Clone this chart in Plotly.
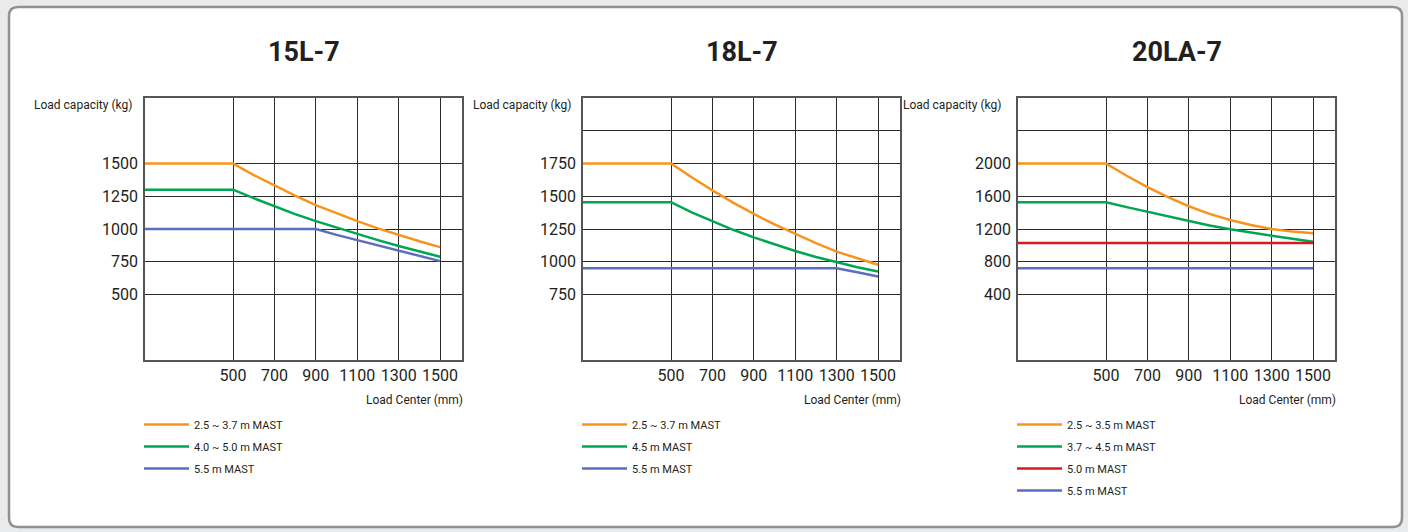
import plotly.graph_objects as go

# ---------------- data ----------------
x_pts = [0, 500, 600, 700, 800, 900, 1000, 1100, 1200, 1300, 1400, 1500]
x_ticks = [500, 700, 900, 1100, 1300, 1500]

titles = ["15L-7", "18L-7", "20LA-7"]

# 15L-7
p1_names = ["2.5 ~ 3.7 m MAST", "4.0 ~ 5.0 m MAST", "5.5 m MAST"]
p1_orange = [1500, 1500, 1412, 1332, 1255, 1182, 1118, 1060, 1005, 955, 907, 862]
p1_green = [1300, 1300, 1235, 1172, 1114, 1060, 1010, 962, 915, 870, 828, 788]
p1_blue = [1000, 1000, 1000, 1000, 1000, 1000, 955, 915, 872, 830, 790, 755]
p1_yticks = [500, 750, 1000, 1250, 1500]
p1_ylabels = ["500", "750", "1000", "1250", "1500"]

# 18L-7
p2_names = ["2.5 ~ 3.7 m MAST", "4.5 m MAST", "5.5 m MAST"]
p2_orange = [1750, 1750, 1645, 1545, 1452, 1365, 1285, 1212, 1142, 1077, 1025, 977]
p2_green = [1455, 1455, 1377, 1308, 1244, 1186, 1132, 1082, 1036, 995, 958, 926]
p2_blue = [950, 950, 950, 950, 950, 950, 950, 950, 950, 950, 920, 888]
p2_yticks = [750, 1000, 1250, 1500, 1750, 2000]
p2_ylabels = ["750", "1000", "1250", "1500", "1750", ""]

# 20LA-7
p3_names = ["2.5 ~ 3.5 m MAST", "3.7 ~ 4.5 m MAST", "5.0 m MAST", "5.5 m MAST"]
p3_orange = [2000, 2000, 1850, 1712, 1588, 1478, 1385, 1310, 1250, 1200, 1168, 1147]
p3_green = [1527, 1527, 1467, 1412, 1350, 1294, 1243, 1196, 1155, 1118, 1080, 1045]
p3_red = [1030, 1030, 1030, 1030, 1030, 1030, 1030, 1030, 1030, 1030, 1030, 1030]
p3_blue = [720, 720, 720, 720, 720, 720, 720, 720, 720, 720, 720, 720]
p3_yticks = [400, 800, 1200, 1600, 2000, 2400]
p3_ylabels = ["400", "800", "1200", "1600", "2000", ""]

# ---------------- styling ----------------
W, H = 1408, 532
FONT = "Roboto, Liberation Sans, sans-serif"
TXT = "#231F20"
ORANGE = "#F7941D"
GREEN = "#00A651"
BLUE = "#5B6DC0"
RED = "#D71920"

def px(x):
    return x / W

def py(y):
    return 1 - y / H

panels = [
    dict(xd=(145, 462), yr=(0, 2000), yt=p1_yticks, yl=p1_ylabels,
         series=[(p1_names[0], p1_orange, ORANGE), (p1_names[1], p1_green, GREEN), (p1_names[2], p1_blue, BLUE)],
         ylab_x=134),
    dict(xd=(583, 900), yr=(250, 2250), yt=p2_yticks, yl=p2_ylabels,
         series=[(p2_names[0], p2_orange, ORANGE), (p2_names[1], p2_green, GREEN), (p2_names[2], p2_blue, BLUE)],
         ylab_x=573),
    dict(xd=(1018, 1335), yr=(-400, 2800), yt=p3_yticks, yl=p3_ylabels,
         series=[(p3_names[0], p3_orange, ORANGE), (p3_names[1], p3_green, GREEN),
                 (p3_names[2], p3_red, RED), (p3_names[3], p3_blue, BLUE)],
         ylab_x=1003),
]

fig = go.Figure()
layout = dict(
    width=W, height=H,
    margin=dict(l=0, r=0, t=0, b=0),
    paper_bgcolor="#E9EAEC",
    plot_bgcolor="white",
    font=dict(family=FONT, color=TXT),
    showlegend=True,
    annotations=[],
    shapes=[],
)

# white rounded panel
r = 9
x0, y0, x1, y1 = 9, 7, 1402, 527
path = (f"M {px(x0+r)},{py(y0)} L {px(x1-r)},{py(y0)} Q {px(x1)},{py(y0)} {px(x1)},{py(y0+r)} "
        f"L {px(x1)},{py(y1-r)} Q {px(x1)},{py(y1)} {px(x1-r)},{py(y1)} "
        f"L {px(x0+r)},{py(y1)} Q {px(x0)},{py(y1)} {px(x0)},{py(y1-r)} "
        f"L {px(x0)},{py(y0+r)} Q {px(x0)},{py(y0)} {px(x0+r)},{py(y0)} Z")
layout["shapes"].append(dict(type="path", xref="paper", yref="paper", path=path,
                             fillcolor="white", line=dict(color="#909090", width=2.5), layer="below"))

for i, p in enumerate(panels):
    k = "" if i == 0 else str(i + 1)
    xa, ya = "x" + k, "y" + k
    lg = "legend" + k
    for gi, (name, vals, col) in enumerate(p["series"]):
        fig.add_trace(go.Scatter(
            x=x_pts, y=vals, mode="lines", name=name,
            line=dict(color=col, width=2.5),
            xaxis=xa, yaxis=ya, legend=lg, legendgroup=f"g{i}_{gi}",
            hoverinfo="skip",
        ))
    layout["xaxis" + k] = dict(
        domain=[px(p["xd"][0]), px(p["xd"][1])], range=[75, 1606], anchor=ya,
        tickmode="array", tickvals=x_ticks, ticktext=[str(t) for t in x_ticks],
        showgrid=True, gridcolor="#2b2b2b", gridwidth=1,
        showline=True, linecolor="#555555", linewidth=1.5, mirror=True,
        ticks="", zeroline=False, tickfont=dict(size=16, color=TXT),
        fixedrange=True,
    )
    layout["yaxis" + k] = dict(
        domain=[py(360), py(98)], range=list(p["yr"]), anchor=xa,
        tickmode="array", tickvals=p["yt"], ticktext=p["yl"],
        showgrid=True, gridcolor="#2b2b2b", gridwidth=1,
        showline=True, linecolor="#555555", linewidth=1.5, mirror=True,
        ticks="", zeroline=False, tickfont=dict(size=16, color=TXT),
        ticklabelstandoff=2, fixedrange=True,
    )
    cx = (p["xd"][0] + p["xd"][1]) / 2
    layout["annotations"].append(dict(
        text=f"<b>{titles[i]}</b>", x=px(cx), y=py(52), xref="paper", yref="paper",
        xanchor="center", yanchor="middle", showarrow=False,
        font=dict(size=27, color=TXT, family=FONT)))
    layout["annotations"].append(dict(
        text="Load capacity (kg)", x=px(p["ylab_x"]), y=py(105), xref="paper", yref="paper",
        xanchor="right", yanchor="middle", showarrow=False,
        font=dict(size=12, color=TXT, family=FONT)))
    layout["annotations"].append(dict(
        text="Load Center (mm)", x=px(p["xd"][1] + 3), y=py(400), xref="paper", yref="paper",
        xanchor="right", yanchor="middle", showarrow=False,
        font=dict(size=12, color=TXT, family=FONT)))
    layout[lg] = dict(
        x=px(p["xd"][0] - 6), y=py(410), xanchor="left", yanchor="top",
        bgcolor="rgba(0,0,0,0)", borderwidth=0,
        font=dict(size=11, color=TXT, family=FONT),
        tracegroupgap=3, itemwidth=45, traceorder="grouped",
        itemclick=False, itemdoubleclick=False,
    )

fig.update_layout(**layout)
fig.write_html(
    "out.html",
    config={"displayModeBar": False},
    post_script="document.body.style.margin='0';document.body.style.padding='0';"
                "document.body.style.overflow='hidden';"
                "document.documentElement.style.background='#E9EAEC';",
)
